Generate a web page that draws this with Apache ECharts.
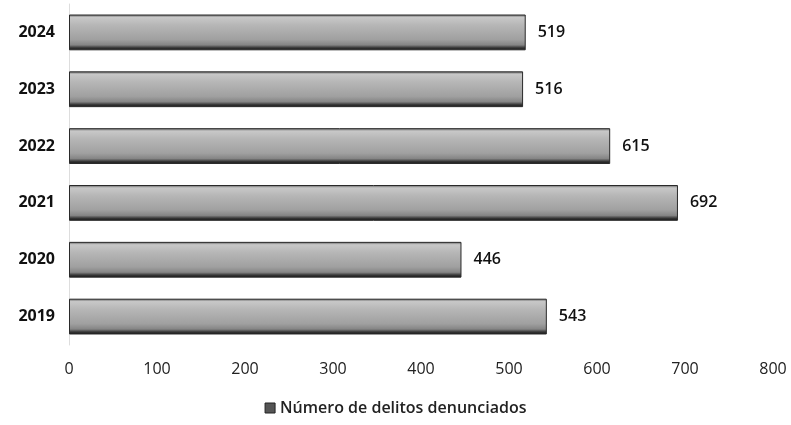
<!DOCTYPE html>
<html>
<head>
<meta charset="utf-8">
<script src="https://cdn.jsdelivr.net/npm/echarts@6/dist/echarts.min.js"></script>
<style>html,body{margin:0;padding:0;background:#fff}#c{width:791px;height:425px}</style>
</head>
<body>
<div id="c"></div>
<script>
const categories = ['2019', '2020', '2021', '2022', '2023', '2024'];
const values = [543, 446, 692, 615, 516, 519];
const seriesName = 'Número de delitos denunciados';

const chart = echarts.init(document.getElementById('c'));
const barGrad = new echarts.graphic.LinearGradient(0, 0, 0, 1, [
  {offset: 0, color: '#5a5a5a'},
  {offset: 0.08, color: '#c8c8c8'},
  {offset: 0.3, color: '#b6b6b6'},
  {offset: 0.7, color: '#a0a0a0'},
  {offset: 0.85, color: '#858585'},
  {offset: 0.93, color: '#353535'},
  {offset: 1, color: '#151515'}
]);
chart.setOption({
  animation: false,
  grid: {left: 69, right: 18, top: 4, bottom: 80, containLabel: false},
  legend: {
    bottom: 4, left: 'center',
    icon: 'rect', itemWidth: 10, itemHeight: 10, itemGap: 6,
    textStyle: {fontFamily: 'Open Sans', fontSize: 16, color: '#222', fontWeight: 600},
    data: [{name: seriesName, itemStyle: {color: '#555', borderColor: '#222', borderWidth: 1}}]
  },
  xAxis: {
    type: 'value', min: 0, max: 800, interval: 100,
    axisLine: {show: false}, axisTick: {show: false}, splitLine: {show: false},
    axisLabel: {fontFamily: 'Open Sans', fontSize: 16, color: '#222', margin: 16}
  },
  yAxis: {
    type: 'category', data: categories,
    axisLine: {show: true, lineStyle: {color: '#ddd'}}, axisTick: {show: false},
    axisLabel: {fontFamily: 'Open Sans', fontSize: 16, fontWeight: 'bold', color: '#111', margin: 14}
  },
  series: [{
    name: seriesName, type: 'bar', data: values, barWidth: '63%',
    itemStyle: {color: barGrad, borderColor: '#2a2a2a', borderWidth: 1},
    label: {show: true, position: 'right', distance: 12, fontFamily: 'Open Sans', fontSize: 16, fontWeight: 600, color: '#111'}
  }]
});
</script>
</body>
</html>
